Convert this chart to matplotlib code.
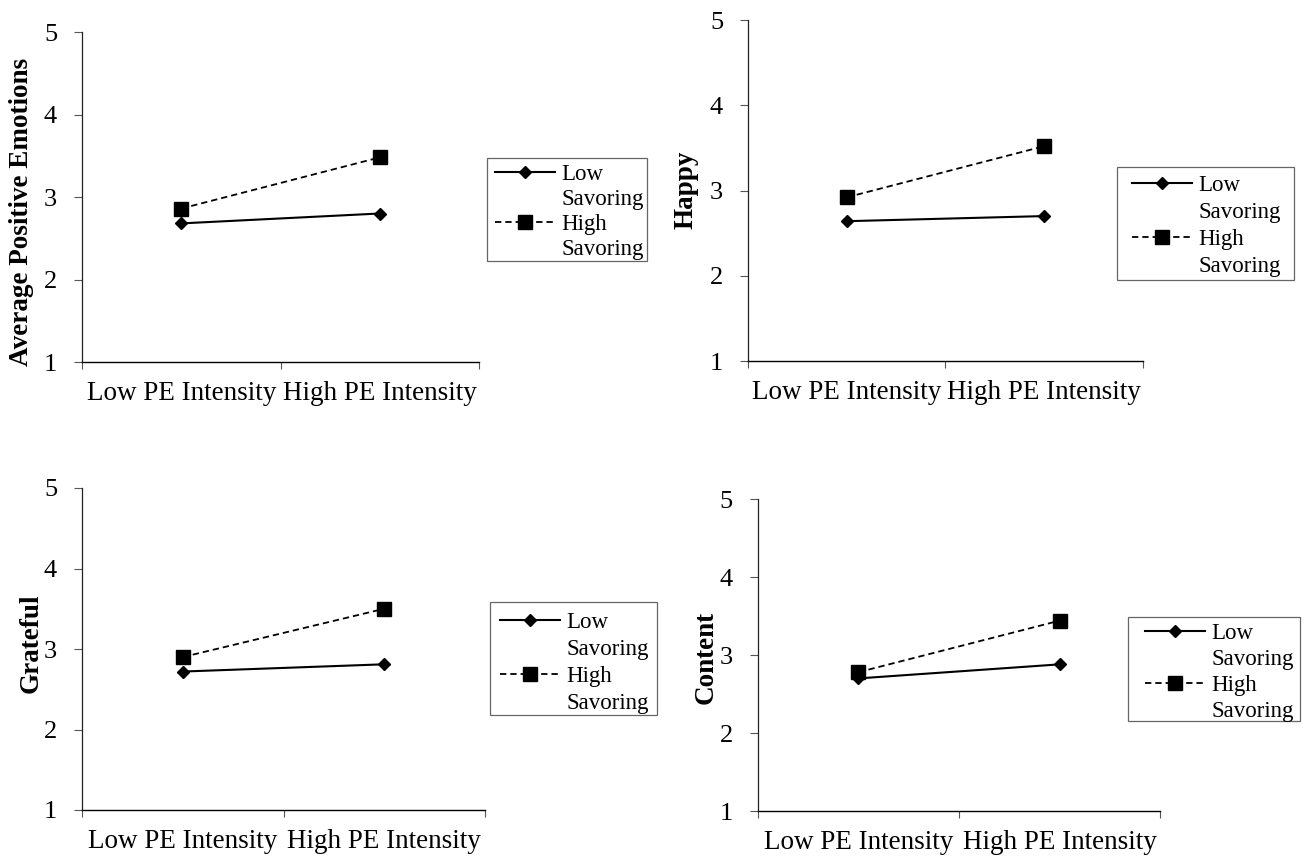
import matplotlib
matplotlib.use("Agg")

import matplotlib.pyplot as plt
from matplotlib.lines import Line2D
from matplotlib.patches import Rectangle

plt.rcParams["font.family"] = ["Liberation Serif", "DejaVu Serif"]

W, H = 1309, 859

# -----------------------------
# Data
# -----------------------------
categories = ["Low PE Intensity", "High PE Intensity"]
y_ticks = [1, 2, 3, 4, 5]

avg_low = [2.68, 2.80]
avg_high = [2.86, 3.48]

happy_low = [2.64, 2.70]
happy_high = [2.92, 3.52]

grateful_low = [2.72, 2.81]
grateful_high = [2.90, 3.50]

content_low = [2.70, 2.88]
content_high = [2.78, 3.44]

# -----------------------------
# Layout (pixels from top-left)
# -----------------------------
panels = [
    {
        "ylabel": "Average Positive Emotions", "low": avg_low, "high": avg_high,
        "axes": (82, 32, 479, 362), "ylab_xy": (34, 212),
        "frame": (487, 158, 647, 261), "leg_xy": (495, 163.5), "spacing": 0.175,
    },
    {
        "ylabel": "Happy", "low": happy_low, "high": happy_high,
        "axes": (748, 20, 1143, 361), "ylab_xy": (698, 190),
        "frame": (1117, 167, 1294, 280), "leg_xy": (1132, 174.5), "spacing": 0.26,
    },
    {
        "ylabel": "Grateful", "low": grateful_low, "high": grateful_high,
        "axes": (82, 488, 485, 810), "ylab_xy": (44, 643),
        "frame": (490, 602, 657, 715), "leg_xy": (500, 611.5), "spacing": 0.26,
    },
    {
        "ylabel": "Content", "low": content_low, "high": content_high,
        "axes": (758, 499, 1160, 811), "ylab_xy": (719, 657),
        "frame": (1128, 617, 1300, 721), "leg_xy": (1145, 622.5), "spacing": 0.23,
    },
]


def px_rect(l, t, r, b):
    return [l / W, 1 - b / H, (r - l) / W, (b - t) / H]


def draw_panel(fig, p):
    ax = fig.add_axes(px_rect(*p["axes"]))
    xs = [0.5, 1.5]
    l1, = ax.plot(xs, p["low"], color="black", lw=1.5, marker="D", markersize=6.5,
                  clip_on=False)
    l2, = ax.plot(xs, p["high"], color="black", lw=1.3, ls=(0, (3.5, 2.2)),
                  marker="s", markersize=10, clip_on=False)

    ax.set_xlim(0, 2)
    ax.set_ylim(1, 5)
    ax.set_yticks(y_ticks)
    ax.set_xticks([0, 1, 2])
    ax.set_xticklabels([])
    ax.set_xticks(xs, minor=True)
    ax.set_xticklabels(categories, minor=True)
    ax.tick_params(axis="x", which="minor", length=0, pad=14, labelsize=19.5)
    ax.tick_params(axis="x", which="major", length=5, direction="out", width=0.8,
                   color="#555555")
    ax.tick_params(axis="y", length=6, width=0.8, pad=12, labelsize=19,
                   color="#555555")

    for s in ["top", "right"]:
        ax.spines[s].set_visible(False)
    ax.spines["left"].set_linewidth(0.9)
    ax.spines["left"].set_color("#222222")
    ax.spines["bottom"].set_linewidth(1.0)

    ax.set_ylabel(p["ylabel"], fontsize=19.5, fontweight="bold")
    lx, ly = p["ylab_xy"]
    ax.yaxis.set_label_coords(lx / W, 1 - ly / H, transform=fig.transFigure)

    # legend frame
    fl, ft, fr, fb = p["frame"]
    fig.add_artist(Rectangle((fl / W, 1 - fb / H), (fr - fl) / W, (fb - ft) / H,
                             transform=fig.transFigure, fill=False,
                             edgecolor="#666666", linewidth=0.9))

    blank = Line2D([], [], linestyle="none")
    gx, gy = p["leg_xy"]
    fig.legend(
        [l1, blank, l2, blank],
        ["Low", "Savoring", "High", "Savoring"],
        loc="upper left",
        bbox_to_anchor=(gx / W, 1 - gy / H),
        bbox_transform=fig.transFigure,
        borderaxespad=0,
        borderpad=0,
        fontsize=16.5,
        frameon=False,
        handlelength=2.62,
        handletextpad=0.27,
        labelspacing=p["spacing"],
    )
    return ax


def main():
    fig = plt.figure(figsize=(W / 100, H / 100), dpi=100)
    for p in panels:
        draw_panel(fig, p)
    fig.savefig("out.png", dpi=100)
    plt.close(fig)


if __name__ == "__main__":
    main()
